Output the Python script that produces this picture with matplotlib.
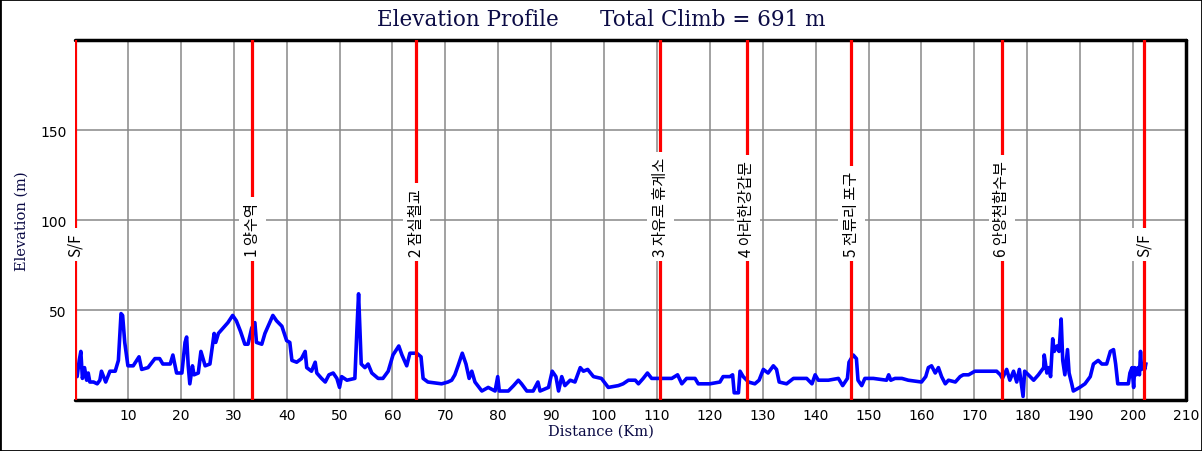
import matplotlib
matplotlib.use("Agg")
import matplotlib.pyplot as plt
from matplotlib.patches import Rectangle

# elevation profile (km, m)
dist = [0.0, 0.4, 0.8, 1.1, 1.4, 1.8, 2.2, 2.5, 2.8, 3.5, 4.2, 4.7, 5.0, 5.8, 6.6, 7.6,
        8.2, 8.7, 9.0, 9.4, 10.0, 11.0, 12.1, 12.6, 13.8, 15.1, 16.0, 16.6, 18.0, 18.5,
        19.2, 20.2, 20.8, 21.1, 21.4, 21.7, 22.2, 22.5, 23.3, 23.8, 24.6, 25.5, 26.3,
        26.6, 27.1, 28.0, 28.9, 29.8, 30.5, 31.3, 32.1, 32.7, 33.4, 34.0, 34.3, 35.3,
        35.9, 36.5, 37.4, 38.1, 39.1, 40.0, 40.6, 41.0, 41.9, 42.8, 43.5, 43.8, 44.7,
        45.4, 45.7, 46.6, 47.3, 48.0, 48.8, 49.5, 50.0, 50.4, 51.4, 52.9, 53.3, 53.6,
        53.9, 54.1, 54.8, 55.4, 56.1, 57.3, 58.2, 59.2, 60.1, 61.2, 61.8, 62.7, 63.3,
        64.6, 65.4, 65.8, 66.7, 69.3, 70.5, 71.2, 71.8, 72.4, 73.2, 73.9, 74.5, 75.0,
        75.6, 76.9, 78.1, 79.4, 79.9, 80.2, 81.9, 82.9, 83.8, 84.4, 85.4, 86.6, 87.5,
        87.9, 89.5, 90.2, 90.9, 91.4, 92.0, 92.6, 93.6, 94.5, 95.5, 96.1, 96.9, 98.0,
        99.5, 100.8, 102.7, 103.6, 104.6, 105.9, 106.5, 107.4, 108.2, 109.0, 110.9,
        112.8, 113.9, 114.7, 115.6, 117.2, 117.8, 120.0, 121.9, 122.5, 123.8, 124.3,
        124.6, 125.4, 125.7, 126.3, 127.3, 128.5, 129.3, 130.1, 131.0, 132.0, 132.6,
        133.1, 134.5, 135.8, 138.3, 139.3, 139.9, 140.5, 142.4, 144.3, 145.1, 146.0,
        146.3, 147.1, 147.7, 148.0, 148.7, 149.3, 150.9, 153.4, 153.8, 154.2, 155.0,
        156.3, 157.5, 160.0, 160.8, 161.3, 161.9, 162.6, 163.2, 163.8, 164.5, 165.1,
        166.4, 167.3, 167.9, 168.9, 170.1, 172.0, 174.2, 174.9, 175.3, 176.1, 176.7,
        177.4, 178.0, 178.5, 179.2, 179.5, 180.2, 181.2, 182.1, 183.1, 183.2, 183.7,
        184.1, 184.4, 184.8, 185.1, 185.6, 186.0, 186.4, 186.7, 187.1, 187.6, 187.9,
        188.4, 188.7, 189.3, 189.9, 190.9, 191.9, 192.5, 193.4, 194.1, 195.0, 195.7,
        196.3, 196.7, 197.1, 199.1, 199.4, 199.8, 200.1, 200.3, 200.6, 200.9, 201.2,
        201.4, 201.6, 201.9, 202.2, 202.4]
elev = [20, 13, 22, 27, 12, 18, 11, 15, 10, 10, 9, 11, 16, 10, 16, 16,
        22, 48, 47, 32, 19, 19, 24, 17, 18, 23, 23, 20, 20, 25,
        15, 15, 32, 35, 19, 9, 19, 14, 15, 27, 19, 20, 37,
        32, 37, 40, 43, 47, 44, 38, 31, 31, 40, 43, 32, 31,
        37, 41, 47, 44, 41, 33, 32, 22, 21, 23, 27, 18, 16,
        21, 15, 12, 10, 14, 15, 12, 7, 13, 11, 12, 40, 59,
        35, 20, 18, 20, 15, 12, 12, 16, 25, 30, 25, 19, 26,
        26, 24, 12, 10, 9, 10, 11, 14, 19, 26, 20, 12, 16,
        10, 5, 7, 5, 13, 5, 5, 8, 11, 9, 5, 5, 10,
        5, 7, 16, 13, 5, 13, 8, 11, 10, 18, 16, 17, 13,
        12, 7, 8, 9, 11, 11, 9, 12, 15, 12, 12,
        12, 14, 9, 12, 12, 9, 9, 10, 13, 13, 14,
        4, 4, 16, 13, 10, 9, 11, 17, 15, 19, 17,
        10, 9, 12, 12, 9, 14, 11, 11, 12, 8, 12,
        21, 25, 23, 11, 8, 12, 12, 11, 14, 11, 12,
        12, 11, 10, 13, 18, 19, 15, 18, 13, 9, 11,
        10, 13, 14, 14, 16, 16, 16, 14, 12, 17, 11,
        16, 10, 17, 2, 16, 14, 11, 14, 18, 25, 15,
        18, 13, 34, 27, 30, 27, 45, 22, 14, 28, 15,
        9, 5, 6, 7, 9, 13, 20, 22, 20, 20, 27,
        28, 20, 9, 9, 15, 18, 7, 18, 14, 18, 14,
        27, 17, 20, 17, 20]

cp_km = [0.0, 33.5, 64.5, 110.6, 127.0, 146.7, 175.2, 202.1]
cp_names = ["S/F", "1 양수역", "2 잠실철교", "3 자유로 휴게소", "4 아라한강갑문",
            "5 전류리 포구", "6 안양천합수부", "S/F"]

title_txt = "Elevation Profile      Total Climb = 691 m"
navy = "#0b0b45"

fig = plt.figure(figsize=(12.02, 4.52), dpi=100)
ax = fig.add_axes([0.0624, 0.1128, 0.9243, 0.7965])

ax.plot(dist, elev, color="#0000ff", lw=2.6, zorder=3, solid_joinstyle="round")

for km, name in zip(cp_km, cp_names):
    ax.axvline(km, color="#ff0000", lw=2.3, zorder=4)
    ax.text(km, 80, name, rotation=90, ha="center", va="bottom", fontsize=11,
            family=["Noto Sans CJK KR", "DejaVu Sans"], zorder=5,
            bbox=dict(facecolor="white", edgecolor="none", pad=3.5))

ax.set_xlim(0, 210)
ax.set_ylim(0, 200)
ax.set_xticks(range(10, 211, 10))
ax.set_yticks([50, 100, 150])
ax.grid(True, color="#888888", lw=1.1)
ax.set_axisbelow(True)
ax.tick_params(length=0, labelsize=10, pad=6)

for side in ["top", "right", "bottom"]:
    ax.spines[side].set_linewidth(2.5)
    ax.spines[side].set_color("black")
    ax.spines[side].set_capstyle("round")
ax.spines["left"].set_visible(False)

fig.text(0.5, 0.044, "Distance (Km)", ha="center", va="center", family="DejaVu Serif",
         fontsize=10.5, color=navy)
fig.text(0.018, 0.51, "Elevation (m)", ha="center", va="center", rotation=90,
         family="DejaVu Serif", fontsize=10.5, color=navy)

fig.text(0.5, 0.955, title_txt, ha="center", va="center", family="DejaVu Serif",
         fontsize=15.5, color=navy)

fig.patches.append(Rectangle((0, 0), 1, 1, transform=fig.transFigure, fill=False,
                             edgecolor="black", lw=2))

fig.savefig("out.png", dpi=100)
